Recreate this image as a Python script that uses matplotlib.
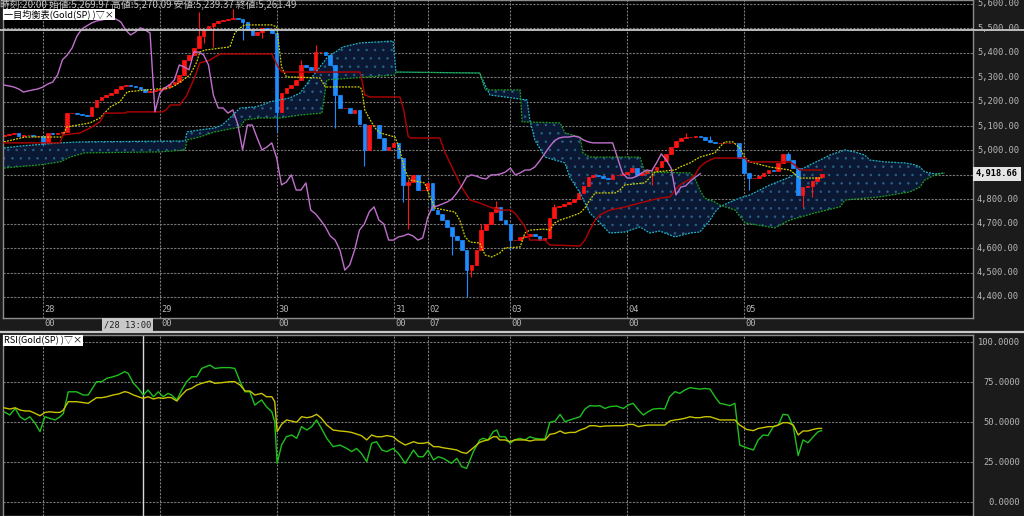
import numpy as np
import matplotlib.pyplot as plt
from matplotlib.lines import Line2D
from matplotlib.transforms import blended_transform_factory

plt.rcParams['font.family'] = ['Noto Sans CJK JP', 'DejaVu Sans']
plt.rcParams['hatch.linewidth'] = 0.5

# hourly candles Gold(SP), index 0 = 27日 16:00
closes = [5063, 5067, 5072, 5059, 5063, 5063, 5059, 5059, 5031, 5072,
          5067, 5072, 5076, 5153, 5153, 5150, 5145, 5141, 5178, 5207,
          5219, 5227, 5235, 5252, 5264, 5268, 5264, 5260, 5252, 5239,
          5244, 5248, 5252, 5260, 5272, 5280, 5309, 5371, 5391, 5420,
          5469, 5497, 5510, 5522, 5530, 5534, 5538, 5542, 5538, 5526,
          5493, 5473, 5485, 5502, 5493, 5481, 5158, 5235, 5256, 5268,
          5289, 5350, 5342, 5330, 5403, 5403, 5391, 5350, 5227, 5174,
          5174, 5153, 5166, 5108, 5002, 5104, 5104, 5051, 5002, 5014,
          5031, 4969, 4859, 4871, 4900, 4838, 4838, 4867, 4756, 4740,
          4715, 4687, 4650, 4633, 4592, 4510, 4531, 4592, 4674, 4699,
          4748, 4769, 4715, 4699, 4633, 4633, 4646, 4650, 4658, 4650,
          4633, 4642, 4724, 4769, 4773, 4781, 4789, 4801, 4826, 4855,
          4891, 4900, 4895, 4887, 4883, 4900, 4900, 4904, 4912, 4928,
          4900, 4908, 4920, 4920, 4932, 4957, 4986, 5014, 5039, 5051,
          5055, 5055, 5059, 5055, 5043, 5035, 5031, 5031, 5031, 5031,
          5031, 4969, 4908, 4887, 4887, 4895, 4908, 4920, 4916, 4949,
          4986, 4961, 4928, 4818, 4850, 4855, 4875, 4891, 4905]
first_open = 5060
high_wicks = {40: 5565, 47: 5580, 56: 5495, 61: 5372, 64: 5430, 83: 4885,
              98: 4700, 101: 4795, 113: 4780, 140: 5070, 145: 5060, 161: 4994}
low_wicks = {8: 5020, 41: 5440, 43: 5424, 49: 5452, 53: 5461, 56: 5076,
             68: 5092, 74: 4935, 82: 4790, 83: 4680, 92: 4572, 95: 4400,
             96: 4480, 104: 4592, 133: 4859, 153: 4838, 164: 4768, 166: 4809}
last_price = '4,918.66'

# ichimoku lines (candle index, price)
tenkan = [(0, 5035), (4.3, 5055), (11.9, 5055), (12.9, 5096), (17.7, 5113), (19.7, 5133),
          (21.8, 5178), (23.8, 5199), (25.3, 5240), (29.4, 5248), (34.1, 5256), (35.3, 5268),
          (36.8, 5289), (38.2, 5309), (39.6, 5362), (40.2, 5403), (41.3, 5411), (46.4, 5424),
          (47.4, 5481), (48.5, 5502), (49.5, 5514), (55, 5514), (56, 5506), (57, 5342),
          (58, 5301), (64.9, 5297), (66, 5260), (73.1, 5260), (73.5, 5248), (74.1, 5166),
          (75.2, 5125), (76.2, 5092), (77.2, 5072), (80.3, 5055), (81.3, 5002), (82.3, 4920),
          (83.4, 4879), (86.4, 4867), (87.5, 4810), (88.5, 4764), (92.6, 4748), (93.6, 4715),
          (94.7, 4646), (95.7, 4625), (97.7, 4621), (98.8, 4572), (100.2, 4564), (101.8, 4580),
          (102.9, 4601), (106, 4605), (107, 4662), (108, 4674), (111.1, 4678), (112.1, 4674),
          (113.1, 4703), (114.2, 4715), (116.2, 4728), (118.3, 4744), (119.3, 4764), (120.3, 4797),
          (121.4, 4826), (125.5, 4826), (126.5, 4838), (127.5, 4859), (131.6, 4867), (133.7, 4912),
          (137.8, 4920), (138.8, 4932), (140.9, 4949), (142.9, 4973), (146, 4990), (147, 5014),
          (148, 5035), (149.7, 5035), (151.1, 5010), (152.2, 4969), (153.2, 4953), (157.3, 4932),
          (161.4, 4920), (163.4, 4887), (168, 4887)]
kijun = [(0, 5031), (11.5, 5031), (12.1, 5063), (15.6, 5072), (17.7, 5092), (19.7, 5117),
         (20.7, 5153), (24.8, 5153), (25.3, 5158), (32.6, 5158), (33.3, 5166), (34.1, 5186),
         (36.1, 5186), (36.8, 5207), (37.4, 5219), (39.2, 5301), (40.2, 5358), (42.3, 5370),
         (43.3, 5383), (44.4, 5395), (55, 5395), (56.3, 5342), (57.1, 5321), (73.1, 5321),
         (73.5, 5289), (74.1, 5227), (75.2, 5219), (81.3, 5219), (82.1, 5166), (83, 5059),
         (83.4, 5051), (89.5, 5051), (90.6, 4990), (92, 4932), (94, 4850), (95.7, 4797),
         (97.7, 4785), (99.8, 4768), (101.8, 4756), (103.9, 4756), (104.9, 4744), (106, 4715),
         (107, 4687), (108, 4633), (111.1, 4633), (112.1, 4613), (118.3, 4609), (119.3, 4633),
         (120.3, 4674), (121.4, 4715), (122.4, 4736), (124.4, 4756), (127.5, 4768), (130.6, 4785),
         (134.7, 4805), (136.8, 4810), (137.8, 4838), (138.8, 4859), (140.9, 4883), (141.9, 4900),
         (142.9, 4932), (143.9, 4949), (145, 4961), (146, 4969), (152.2, 4969), (152.8, 4953),
         (161.4, 4953), (162.4, 4941), (163.4, 4920), (168, 4920)]
span_a = [(0, 5010), (3.3, 5018), (11.5, 5031), (15.6, 5035), (37.2, 5039), (37.6, 5076),
          (40.2, 5084), (43.3, 5092), (44.8, 5104), (46.4, 5133), (47.4, 5153), (48.5, 5174),
          (51.5, 5178), (53, 5186), (54.6, 5199), (58.7, 5215), (60.8, 5235), (62.8, 5289),
          (64.9, 5342), (66.3, 5379), (69.6, 5424), (73.1, 5440), (79.9, 5448), (80.5, 5321),
          (97.7, 5317), (98.8, 5268), (99.8, 5227), (107.4, 5207), (108, 5125), (109, 5043),
          (111.1, 4973), (115.2, 4949), (116.2, 4891), (118.3, 4826), (120.3, 4744), (122.4, 4703),
          (124.4, 4662), (127.5, 4666), (130.6, 4687), (132.6, 4662), (134.7, 4670), (137.8, 4646),
          (140.9, 4662), (142.9, 4666), (145, 4715), (146, 4748), (147, 4769), (149.1, 4789),
          (151.1, 4805), (153.2, 4818), (155.2, 4838), (157.3, 4859), (161.4, 4891), (163.4, 4920),
          (165.5, 4941), (167.6, 4961), (169.6, 4981), (172.7, 5002), (174.7, 4994), (176.8, 4981),
          (177.8, 4961), (180.9, 4953), (185, 4949), (187.1, 4941), (188.1, 4932), (189.1, 4912),
          (191.2, 4904), (193.2, 4908)]
span_b = [(0, 4928), (7.4, 4941), (11.5, 4953), (13.6, 4973), (16.6, 4990), (32, 4994),
          (37.2, 5002), (37.6, 5043), (40.2, 5055), (43.3, 5076), (48.5, 5096), (49.5, 5125),
          (52.6, 5133), (56.7, 5133), (60.8, 5145), (65.3, 5153), (66.3, 5289), (80.3, 5309),
          (80.5, 5321), (97.7, 5317), (98.8, 5248), (106, 5248), (106.4, 5117), (114.2, 5113),
          (115.2, 5072), (118.3, 5055), (118.9, 4990), (120.3, 4973), (130.6, 4973), (131.6, 4912),
          (140.9, 4908), (141.9, 4887), (142.9, 4838), (143.9, 4805), (146, 4789), (147, 4777),
          (150.1, 4756), (152.2, 4703), (158.3, 4683), (161.4, 4715), (166.5, 4744), (171.7, 4769),
          (172.7, 4797), (179.9, 4810), (186, 4830), (188.1, 4850), (189.1, 4879), (191.2, 4900),
          (193.2, 4908)]
chikou_shift = 25

# RSI panel (candle index, value)
rsi = [(0, 56.4), (1.2, 54.4), (2.3, 58.5), (3.3, 53.3), (4.3, 51.3), (5.3, 53.3), (6.4, 49.2),
       (7.4, 44.0), (8.4, 53.3), (9.4, 52.3), (10.5, 51.3), (11.5, 53.3), (12.2, 55.4), (13.2, 68.9),
       (14.9, 68.9), (16.3, 66.9), (17.3, 66.9), (19.0, 75.2), (20.1, 75.2), (21.1, 77.3),
       (22.4, 78.3), (23.5, 79.4), (24.8, 81.5), (25.5, 80.4), (26.6, 74.2), (27.6, 71.0),
       (28.6, 66.9), (29.6, 70.0), (30.7, 65.8), (31.7, 68.9), (32.7, 65.8), (33.7, 67.9),
       (34.4, 66.9), (35.5, 63.8), (36.5, 70.0), (37.5, 75.2), (38.5, 78.3), (39.6, 78.3),
       (40.6, 83.5), (42.3, 85.6), (43.3, 83.5), (44.7, 84.0), (46.4, 84.0), (47.4, 83.5),
       (48.5, 75.2), (49.5, 68.9), (50.5, 68.9), (51.5, 60.6), (52.9, 63.8), (53.9, 59.6),
       (55.0, 56.4), (55.6, 50.2), (56.1, 24.2), (57.0, 35.6), (58.0, 40.8), (59.1, 41.9),
       (60.1, 39.8), (61.1, 47.1), (62.2, 45.0), (63.2, 47.1), (64.2, 51.3), (65.2, 46.0),
       (66.3, 39.8), (67.6, 34.6), (69.0, 35.6), (70.4, 33.5), (71.4, 31.5), (72.4, 33.5),
       (73.4, 30.4), (74.5, 25.2), (75.5, 36.7), (76.5, 37.7), (77.6, 32.5), (78.6, 31.5),
       (79.9, 33.5), (81.0, 30.4), (82.4, 24.2), (84.1, 32.5), (85.1, 28.3), (86.1, 28.3),
       (87.1, 32.5), (88.2, 26.3), (89.2, 28.3), (90.2, 27.3), (91.9, 24.2), (93.0, 27.3),
       (94.0, 22.1), (95.0, 21.0), (96.4, 31.5), (97.7, 38.8), (98.4, 39.8), (99.4, 38.8),
       (100.5, 44.0), (101.2, 45.0), (101.8, 40.8), (102.9, 40.8), (103.9, 36.7), (104.9, 38.8),
       (105.9, 39.8), (107.0, 38.8), (108.0, 40.8), (109.0, 39.8), (110.1, 39.4), (111.1, 39.4),
       (112.1, 49.8), (113.2, 50.6), (114.2, 54.8), (115.2, 50.2), (116.2, 51.3), (117.3, 52.3),
       (118.3, 53.3), (119.3, 58.1), (120.3, 60.2), (121.4, 60.0), (122.4, 60.2), (123.4, 58.5),
       (124.4, 59.6), (125.8, 60.0), (127.2, 58.5), (128.2, 60.6), (129.2, 61.7), (130.3, 57.5),
       (131.3, 54.4), (132.3, 56.5), (133.3, 58.1), (134.7, 58.5), (135.7, 58.1), (136.7, 65.8),
       (137.8, 69.0), (138.8, 67.9), (139.8, 70.0), (140.9, 71.5), (141.9, 71.0), (142.9, 70.6),
       (143.9, 71.0), (145.0, 70.6), (146.0, 65.8), (147.0, 61.7), (148.1, 61.0), (149.1, 60.2),
       (150.1, 61.7), (151.1, 35.6), (152.5, 33.9), (153.9, 32.5), (154.9, 38.8), (155.9, 41.9),
       (156.9, 41.5), (158.0, 47.1), (159.0, 48.1), (160.0, 54.8), (161.0, 54.4), (162.1, 47.1),
       (163.1, 29.0), (164.1, 38.8), (165.1, 37.0), (166.2, 40.8), (167.2, 44.0), (167.9, 44.6)]
rsi_signal = [(0, 58.9), (1.2, 58.1), (2.3, 58.9), (3.3, 57.5), (4.3, 56.9), (5.3, 56.9),
              (6.4, 55.4), (7.4, 53.9), (8.4, 56.0), (9.4, 56.4), (10.5, 56.0), (11.5, 56.0),
              (12.2, 57.5), (13.2, 62.7), (14.9, 62.7), (16.3, 62.1), (17.3, 61.7), (19.0, 65.2),
              (20.1, 65.2), (21.1, 65.8), (22.4, 66.9), (23.5, 67.5), (24.8, 69.0), (25.5, 68.5),
              (26.6, 66.9), (27.6, 65.8), (28.6, 64.8), (29.6, 65.8), (30.7, 64.4), (31.7, 65.2),
              (32.7, 64.8), (33.7, 65.4), (34.4, 65.2), (35.5, 63.1), (36.5, 66.9), (37.5, 70.0),
              (38.5, 71.0), (39.6, 73.1), (40.6, 74.2), (42.3, 75.6), (43.3, 74.2), (44.7, 74.6),
              (46.4, 75.2), (47.4, 75.2), (48.5, 73.1), (49.5, 69.4), (50.5, 69.4), (51.5, 66.9),
              (52.9, 67.9), (53.9, 65.8), (55.0, 65.8), (55.6, 62.7), (56.1, 44.0), (57.0, 48.5),
              (58.0, 51.3), (59.1, 50.6), (60.1, 49.8), (61.1, 53.3), (62.2, 52.7), (63.2, 53.3),
              (64.2, 54.8), (65.2, 52.3), (66.3, 48.1), (67.6, 45.0), (69.0, 44.4), (70.4, 44.0),
              (71.4, 43.5), (72.4, 42.5), (73.4, 41.5), (74.5, 38.8), (75.5, 41.9), (76.5, 40.8),
              (77.6, 40.8), (78.6, 41.5), (79.9, 40.8), (81.0, 38.1), (82.4, 35.6), (84.1, 37.7),
              (85.1, 36.7), (86.1, 36.7), (87.1, 37.3), (88.2, 34.6), (89.2, 34.6), (90.2, 33.9),
              (91.9, 33.1), (93.0, 32.5), (94.0, 31.0), (95.0, 30.4), (96.4, 33.9), (97.7, 37.3),
              (98.4, 38.1), (99.4, 38.8), (100.5, 40.8), (101.2, 40.8), (101.8, 38.8), (102.9, 38.8),
              (103.9, 37.7), (104.9, 38.8), (105.9, 38.8), (107.0, 38.8), (108.0, 38.1), (109.0, 38.8),
              (111.1, 38.8), (112.1, 42.3), (113.2, 42.9), (114.2, 44.4), (115.2, 42.9), (116.2, 43.5),
              (117.3, 43.5), (118.3, 45.0), (119.3, 46.0), (120.3, 47.7), (121.4, 47.7), (122.4, 47.1),
              (123.4, 47.5), (125.8, 47.7), (127.2, 47.7), (128.2, 48.5), (129.2, 48.5), (130.3, 47.1),
              (131.3, 47.7), (132.3, 48.1), (134.7, 48.1), (135.7, 48.1), (136.7, 50.6), (137.8, 51.3),
              (138.8, 51.7), (139.8, 52.3), (140.9, 53.3), (141.9, 52.7), (142.9, 52.7), (143.9, 53.3),
              (145.0, 53.3), (146.0, 52.3), (147.0, 51.3), (148.1, 51.3), (149.1, 51.3), (150.1, 51.3),
              (151.1, 48.1), (152.5, 45.4), (153.9, 44.6), (154.9, 46.0), (155.9, 46.5), (156.9, 47.1),
              (158.0, 47.1), (159.0, 48.1), (160.0, 49.6), (161.0, 49.6), (162.1, 48.1), (163.1, 41.9),
              (164.1, 44.4), (165.1, 44.4), (166.2, 45.4), (167.2, 46.0), (167.9, 46.0)]

# axis labels
day_idx = [8, 32, 56, 80, 87, 104, 128, 152]
day_top = ['28', '29', '30', '31', '02', '03', '04', '05']
day_bot = ['00', '00', '00', '00', '07', '00', '00', '00']
price_levels = list(range(4400, 5700, 100))
rsi_levels = [0, 25, 50, 75, 100]
header = '時刻:20:00 始値:5,269.97 高値:5,270.09 安値:5,239.37 終値:5,261.49'
crosshair_idx = 28.5
crosshair_label = '/28 13:00'
hline_price = 5493

W, H = 1024, 516
GRID = '#767676'
LBL = '#b8b8b8'
MONO = ['DejaVu Sans Mono']

c = np.array(closes, float)
n = len(c)
idx = np.arange(n)
o = np.r_[first_open, c[:-1]]
hi = np.maximum(o, c)
lo = np.minimum(o, c)
for k, v in high_wicks.items():
    hi[k] = v
for k, v in low_wicks.items():
    lo[k] = v
col = np.where(c >= o, '#ff1414', '#1e8cff')

fig = plt.figure(figsize=(W / 100, H / 100), dpi=100, facecolor='#1b1b1b')
ax = fig.add_axes([3 / W, 1 - 318 / H, 970 / W, 318 / H], facecolor='black')
ax2 = fig.add_axes([3 / W, 0, 970 / W, 181 / H], facecolor='black')

for a in (ax, ax2):
    a.set_xlim(-0.2, 199.0)
    a.set_xticks([])
    a.set_yticks([])
    for s in a.spines.values():
        s.set_color('#8c8c8c')
        s.set_linewidth(1)
    for d in day_idx:
        a.axvline(d, color=GRID, lw=0.8, ls=(0, (2, 1.2)), zorder=0)
ax.set_ylim(4314, 5616)
ax2.set_ylim(-8.75, 104.4)

for p in price_levels:
    ax.axhline(p, color=GRID, lw=0.8, ls=(0, (2, 1.2)), zorder=0)
for v in rsi_levels:
    ax2.axhline(v, color=GRID, lw=0.8, ls=(0, (2, 1.2)), zorder=0)

# cloud
ax_, ay_ = zip(*span_a)
bx_, by_ = zip(*span_b)
ax.fill(np.r_[ax_, bx_[::-1]], np.r_[ay_, by_[::-1]], facecolor='#0b1834',
        edgecolor='#2a6488', hatch='..', linewidth=0, zorder=1)
ax.plot(ax_, ay_, color='#1fb4c8', lw=0.9, ls=(0, (1.5, 1)), zorder=3)
ax.plot(bx_, by_, color='#1f9e1f', lw=0.9, ls=(0, (1.5, 1)), zorder=3)

# candles
ax.vlines(idx, lo, hi, colors=col, lw=0.8, zorder=2)
ax.bar(idx, c - o, bottom=o, width=0.74, color=col, edgecolor=col, linewidth=0.5, zorder=2)

# tenkan / kijun / chikou
tx, ty = zip(*tenkan)
ax.plot(tx, ty, color='#d2d200', lw=0.9, ls=(0, (1.5, 1)), zorder=4)
kx, ky = zip(*kijun)
ax.plot(kx, ky, color='#b40000', lw=1.0, zorder=4)
ax.plot(idx[chikou_shift:] - chikou_shift, c[chikou_shift:], color='#c070cc', lw=1.0, zorder=4)

ax.axhline(hline_price, xmin=-0.004, xmax=1.054, color='#c8c8c8', lw=1.3, clip_on=False, zorder=5)

# RSI
rx, ry = zip(*rsi)
sx, sy = zip(*rsi_signal)
ax2.axvline(crosshair_idx, color='#d8d8d8', lw=1.0, zorder=1)
ax2.plot(sx, sy, color='#c8c400', lw=1.0, zorder=3)
ax2.plot(rx, ry, color='#1ec01e', lw=1.0, zorder=2)

# texts
bt = blended_transform_factory(ax.transData, ax.transAxes)
for d, t1, t2 in zip(day_idx, day_top, day_bot):
    ax.text(d + 0.3, 8 / 318, t1, transform=bt, color=LBL, fontsize=6.3,
            family=MONO, va='center', ha='left')
    ax.text(d + 0.3, -5 / 318, t2, transform=bt, color=LBL, fontsize=6.3,
            family=MONO, va='center', ha='left', clip_on=False)

fig.text(104 / W, 1 - 325 / H, crosshair_label, color='#202020', fontsize=6.3, family=MONO,
         va='center', ha='left', bbox=dict(facecolor='#c8c8c8', edgecolor='none', pad=1.6))

fig.add_artist(Line2D([0, 1], [1 - 332 / H] * 2, color='#c8c8c8', lw=1.6,
                      transform=fig.transFigure))

pt = blended_transform_factory(fig.transFigure, ax.transData)
for p in price_levels:
    fig.text(977 / W, p, f'{p:,.2f}', transform=pt, color=LBL, fontsize=6.3,
             family=MONO, va='center', ha='left')
fig.text(976 / W, c[-1], last_price, transform=pt, color='black', fontsize=6.3,
         family=MONO, fontweight='bold', va='center', ha='left',
         bbox=dict(facecolor='#e4e4e4', edgecolor='none', pad=1.8))

rt = blended_transform_factory(fig.transFigure, ax2.transData)
for v in rsi_levels:
    fig.text(1020 / W, v, f'{v:.4f}', transform=rt, color=LBL, fontsize=6.3,
             family=MONO, va='center', ha='right')

fig.text(0.5 / W, 1 - 8 / H, header, color='#c4c4c4', fontsize=7.0, va='baseline', ha='left')
fig.text(4 / W, 1 - 14.5 / H, '一目均衡表(Gold(SP) )▽×', color='black', fontsize=6.6,
         va='center', ha='left', bbox=dict(facecolor='white', edgecolor='none', pad=0.6))
fig.text(4 / W, 1 - 340.5 / H, 'RSI(Gold(SP) )▽×', color='black', fontsize=6.6,
         va='center', ha='left', bbox=dict(facecolor='white', edgecolor='none', pad=0.6))

fig.savefig('out.png', dpi=100, facecolor=fig.get_facecolor())
